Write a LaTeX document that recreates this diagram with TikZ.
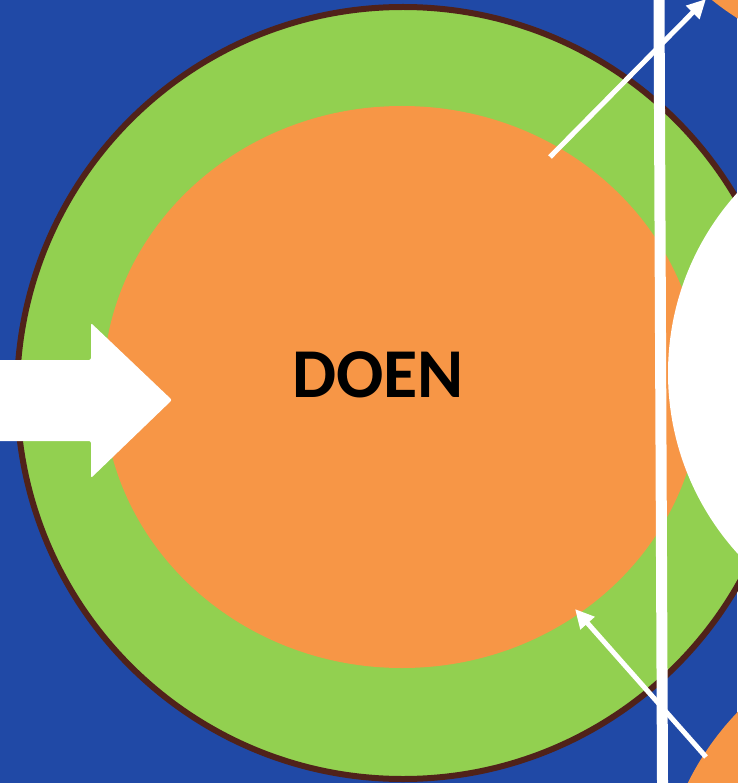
\documentclass[tikz,border=0pt]{standalone}
\usepackage{fontspec}
\setmainfont{Carlito}
\usetikzlibrary{arrows.meta}
\definecolor{doenblue}{HTML}{2049A6}
\definecolor{doengreen}{HTML}{92D050}
\definecolor{doenorange}{HTML}{F79646}
\definecolor{doenbrown}{HTML}{50221A}
\tikzset{
	ring/.style={fill=doengreen, draw=doenbrown, line width=6pt},
	core/.style={fill=doenorange},
	thinarrow/.style={draw=white, line width=5pt, -{Triangle[length=19pt,width=18pt]}},
	bigarrow/.style={fill=white, rounded corners=2pt},
	title/.style={font=\bfseries\fontsize{70}{70}\selectfont, inner sep=0pt}
}
\begin{document}
\begin{tikzpicture}[x=1pt,y=-1pt]
			% background
			\fill[doenblue] (0,0) rectangle (737,783);
			\useasboundingbox (0,0) rectangle (737,783);
			% rings
			\path[ring] (403,393) circle[radius=386];
			\path[core] (402,387) ellipse[x radius=299, y radius=281];
			\path[core] (888,-219) circle[radius=281];
			\path[core] (940,907) circle[radius=281];
			\fill[white] (937,373) circle[radius=269];
			% divider
			\coordinate (top) at (659,0);
			\coordinate (bottom) at (662.5,783);
			\draw[white, line width=11pt] (top) -- (bottom);
			% small arrows
			\coordinate (out from) at (550,157);
			\coordinate (out to) at (706,-1);
			\coordinate (in from) at (706,757);
			\coordinate (in to) at (575,609);
			\draw[thinarrow] (out from) -- (out to);
			\draw[thinarrow] (in from) -- (in to);
			% input arrow
			\path[bigarrow] (-5,360) -- (91,360) -- (91,323) -- (172,400) -- (91,478) -- (91,441) -- (-5,441) -- cycle;
			\node[title] (doen) at (378,375) {DOEN};
		\end{tikzpicture}
\end{document}
